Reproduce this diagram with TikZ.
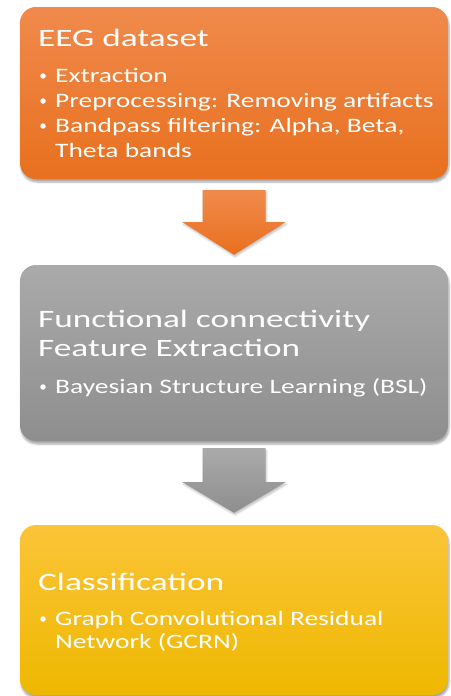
\documentclass[tikz,border=0pt]{standalone}
\usepackage{fontspec}
\setmainfont{Carlito}
\usetikzlibrary{shadows.blur,calc}

\definecolor{orgTop}{RGB}{240,138,76}
\definecolor{orgBot}{RGB}{232,112,30}
\definecolor{gryTop}{RGB}{170,170,170}
\definecolor{gryBot}{RGB}{142,142,142}
\definecolor{ylwTop}{RGB}{251,196,56}
\definecolor{ylwBot}{RGB}{238,184,0}

% wide set type for the headings and the items
\newcommand{\headwide}[1]{\scalebox{1.41}[1]{#1}}
\newcommand{\itemwide}[1]{\scalebox{1.34}[1]{#1}}

\tikzset{
  stage/.style={rounded corners=16pt, minimum width=428pt, inner sep=0pt,
    blur shadow={shadow xshift=1pt, shadow yshift=-3pt, shadow blur steps=6,
      shadow opacity=35}},
  orangebox/.style={stage, top color=orgTop, bottom color=orgBot},
  greybox/.style={stage, top color=gryTop, bottom color=gryBot},
  yellowbox/.style={stage, top color=ylwTop, bottom color=ylwBot},
  headtxt/.style={anchor=base west, inner sep=0pt, text=white,
    font=\fontsize{25}{30}\selectfont},
  itemtxt/.style={anchor=base west, inner sep=0pt, text=white,
    font=\fontsize{20.5}{24}\selectfont},
  dot/.style={circle, fill=white, inner sep=0pt, minimum size=5.5pt},
  blockarrow/.style={blur shadow={shadow xshift=1pt, shadow yshift=-2pt,
      shadow blur steps=4, shadow opacity=25}}
}

\begin{document}
\begin{tikzpicture}[x=1pt,y=-1pt]
  \useasboundingbox (0,0) rectangle (450,696);

  % stage boxes
  \node[orangebox, minimum height=172pt] (eeg) at (234,93) {};
  \node[greybox, minimum height=176pt] (fc) at (234,353) {};
  \node[yellowbox, minimum height=170pt] (cls) at (234,610) {};

  % block arrows between the stages
  \path[blockarrow, top color=orgTop, bottom color=orgBot]
    ($(eeg.south)+(-31.5,11)$) -- ($(eeg.south)+(31.5,11)$)
    -- ($(eeg.south)+(31.5,43)$) -- ($(eeg.south)+(51.5,43)$)
    -- ($(fc.north)+(0,-10)$)
    -- ($(eeg.south)+(-51.5,43)$) -- ($(eeg.south)+(-31.5,43)$) -- cycle;
  \path[blockarrow, top color=gryTop, bottom color=gryBot]
    ($(fc.south)+(-31.5,7)$) -- ($(fc.south)+(31.5,7)$)
    -- ($(fc.south)+(31.5,41)$) -- ($(fc.south)+(51.5,41)$)
    -- ($(cls.north)+(0,-12)$)
    -- ($(fc.south)+(-51.5,41)$) -- ($(fc.south)+(-31.5,41)$) -- cycle;

  % EEG dataset
  \node[headtxt] (eegT) at (38,46) {\headwide{EEG dataset}};
  \node[dot] (d1) at (43,76) {};
  \node[itemtxt] (e1) at (55,82) {\itemwide{Extraction}};
  \node[dot] (d2) at (43,101) {};
  \node[itemtxt] (e2) at (55,107) {\itemwide{Preprocessing: Removing artifacts}};
  \node[dot] (d3) at (43,126) {};
  \node[itemtxt] (e3) at (55,132) {\itemwide{Bandpass filtering: Alpha, Beta,}};
  \node[itemtxt] (e4) at (55,157) {\itemwide{Theta bands}};

  % functional connectivity
  \node[headtxt] (fcT1) at (38,327) {\headwide{Functional connectivity}};
  \node[headtxt] (fcT2) at (38,356) {\headwide{Feature Extraction}};
  \node[dot] (d4) at (43,387) {};
  \node[itemtxt] (f1) at (55,393) {\itemwide{Bayesian Structure Learning (BSL)}};

  % classification
  \node[headtxt] (clsT) at (38,590) {\headwide{Classification}};
  \node[dot] (d5) at (43,619) {};
  \node[itemtxt] (c1) at (55,625) {\itemwide{Graph Convolutional Residual}};
  \node[itemtxt] (c2) at (55,648) {\itemwide{Network (GCRN)}};
\end{tikzpicture}
\end{document}
